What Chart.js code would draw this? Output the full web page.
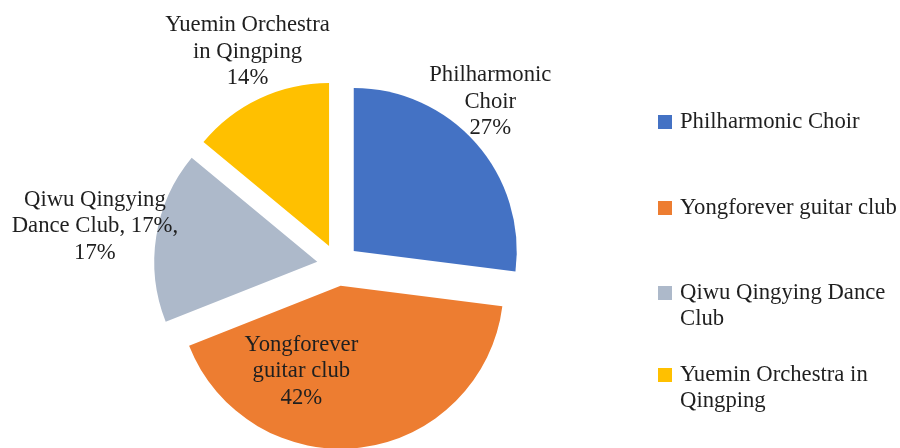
<!DOCTYPE html>
<html><head><meta charset="utf-8">
<script src="https://cdn.jsdelivr.net/npm/chart.js@4.4.0/dist/chart.umd.min.js"></script>
<style>html,body{margin:0;padding:0;background:#fff}canvas{display:block}</style>
</head><body>
<canvas id="c" width="900" height="448"></canvas>
<script>
// ---- data ----
const categories = ["Philharmonic Choir", "Yongforever guitar club", "Qiwu Qingying Dance Club", "Yuemin Orchestra in Qingping"];
const shares = [27, 42, 17, 14];
const sliceColors = ["#4472C4", "#ED7D31", "#ADB9CA", "#FFC000"];
const dataLabelLines = [
  ["Philharmonic", "Choir", shares[0] + "%"],
  ["Yongforever", "guitar club", shares[1] + "%"],
  ["Qiwu Qingying", "Dance Club, " + shares[2] + "%,", shares[2] + "%"],
  ["Yuemin Orchestra", "in Qingping", shares[3] + "%"]
];

// ---- style / layout ----
const FONT = '22.7px "Liberation Serif", "Times New Roman", serif';
const TEXT_COLOR = "#1f1f1f";
const LINE_H = 26.5;
const EXPLODE = 21;
const labelPlacement = [
  {angle: 43, dist: 1.37},
  {angle: 199, dist: 0.69},
  {angle: 279, dist: 1.51},
  {angle: 337, dist: 1.42}
];
const legendLayout = {boxX: 658, box: 14, textX: 680, maxWidth: 222, rowsY: [122, 208, 293, 375]};

// explode slices: translate each arc along its mid angle
const baseArcDraw = Chart.ArcElement.prototype.draw;
Chart.ArcElement.prototype.draw = function (ctx) {
  const mid = (this.startAngle + this.endAngle) / 2;
  ctx.save();
  ctx.translate(Math.cos(mid) * EXPLODE, Math.sin(mid) * EXPLODE);
  baseArcDraw.call(this, ctx);
  ctx.restore();
};

const sliceLabels = {
  id: "sliceLabels",
  afterDatasetsDraw(chart) {
    const ctx = chart.ctx;
    const meta = chart.getDatasetMeta(0);
    ctx.save();
    ctx.font = FONT;
    ctx.fillStyle = TEXT_COLOR;
    ctx.textAlign = "center";
    ctx.textBaseline = "middle";
    meta.data.forEach((arc, i) => {
      const p = labelPlacement[i];
      const a = (p.angle - 90) * Math.PI / 180;
      const r = arc.outerRadius * p.dist;
      const cx = arc.x + Math.cos(a) * r;
      const cy = arc.y + Math.sin(a) * r;
      const lines = dataLabelLines[i];
      lines.forEach((t, j) => ctx.fillText(t, cx, cy + (j - (lines.length - 1) / 2) * LINE_H));
    });
    ctx.restore();
  }
};

function wrap(ctx, text, maxW) {
  const words = text.split(" ");
  const out = [];
  let cur = "";
  words.forEach(w => {
    const test = cur ? cur + " " + w : w;
    if (ctx.measureText(test).width > maxW && cur) { out.push(cur); cur = w; }
    else cur = test;
  });
  if (cur) out.push(cur);
  return out;
}

const sideLegend = {
  id: "sideLegend",
  afterDraw(chart) {
    const ctx = chart.ctx;
    const L = legendLayout;
    ctx.save();
    ctx.font = FONT;
    ctx.textBaseline = "middle";
    ctx.textAlign = "left";
    chart.data.labels.forEach((name, i) => {
      const y = L.rowsY[i];
      ctx.fillStyle = chart.data.datasets[0].backgroundColor[i];
      ctx.fillRect(L.boxX, y - L.box / 2, L.box, L.box);
      ctx.fillStyle = TEXT_COLOR;
      wrap(ctx, name, L.maxWidth).forEach((t, j) => ctx.fillText(t, L.textX, y + j * LINE_H));
    });
    ctx.restore();
  }
};

new Chart(document.getElementById("c"), {
  type: "pie",
  data: {
    labels: categories,
    datasets: [{
      data: shares,
      backgroundColor: sliceColors,
      borderWidth: 0,
      clip: false
    }]
  },
  options: {
    responsive: false,
    animation: false,
    radius: 163,
    layout: {padding: {left: 0, right: 224, top: 82, bottom: 0}},
    plugins: {legend: {display: false}, tooltip: {enabled: false}}
  },
  plugins: [sliceLabels, sideLegend]
});
</script>
</body></html>
